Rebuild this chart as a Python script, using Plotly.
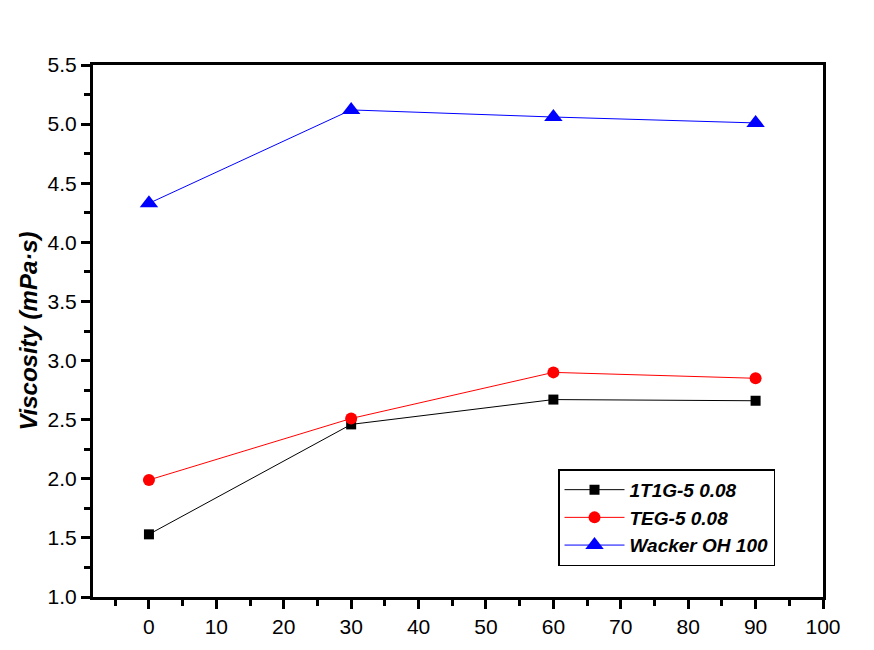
import plotly.graph_objects as go

# tiempo (x) y viscosidad de cada muestra
tiempo = [0, 30, 60, 90]
visc_1t1g = [1.53, 2.46, 2.67, 2.66]
visc_teg = [1.99, 2.51, 2.90, 2.85]
visc_wacker = [4.33, 5.12, 5.06, 5.01]

series = [
    ("1T1G-5 0.08", visc_1t1g, "black", "square", 10),
    ("TEG-5 0.08", visc_teg, "red", "circle", 12),
    ("Wacker OH 100", visc_wacker, "blue", "triangle-up", 16),
]

fig = go.Figure()
for nombre, valores, color, simbolo, tam in series:
    fig.add_trace(
        go.Scatter(
            x=tiempo,
            y=valores,
            name=nombre,
            mode="lines+markers",
            line=dict(color=color, width=1),
            marker=dict(symbol=simbolo, color=color, size=tam),
        )
    )

eje = dict(
    showline=True,
    linecolor="black",
    linewidth=3,
    mirror=True,
    showgrid=False,
    zeroline=False,
    ticks="outside",
    ticklen=9,
    tickwidth=3,
    tickcolor="black",
    automargin=False,
    tickfont=dict(family="Liberation Sans, Arial", size=21, color="black"),
)

fig.update_layout(
    width=874,
    height=650,
    paper_bgcolor="white",
    plot_bgcolor="white",
    margin=dict(l=85, r=59, t=57, b=61),
    showlegend=True,
    legend=dict(
        x=0.637,
        y=0.24,
        xanchor="left",
        yanchor="top",
        bordercolor="black",
        borderwidth=1.5,
        bgcolor="white",
        font=dict(family="Liberation Sans, Arial", size=19, color="black", style="italic", weight="bold"),
        itemwidth=60,
        tracegroupgap=0,
    ),
    xaxis=dict(
        eje,
        range=[-8.3, 100],
        tickvals=[0, 10, 20, 30, 40, 50, 60, 70, 80, 90, 100],
        minor=dict(ticks="outside", ticklen=6, tickwidth=3, tickcolor="black", dtick=5, tick0=5),
        ticklabelstandoff=0,
    ),
    yaxis=dict(
        eje,
        range=[1.0, 5.5],
        dtick=0.5,
        tickformat=".1f",
        minor=dict(ticks="outside", ticklen=6, tickwidth=3, tickcolor="black", dtick=0.25),
        title=dict(
            text="Viscosity (mPa·s)",
            font=dict(family="Liberation Sans, Arial", size=24, color="black", style="italic", weight="bold"),
            standoff=4,
        ),
    ),
)

fig.write_html("out.html")
